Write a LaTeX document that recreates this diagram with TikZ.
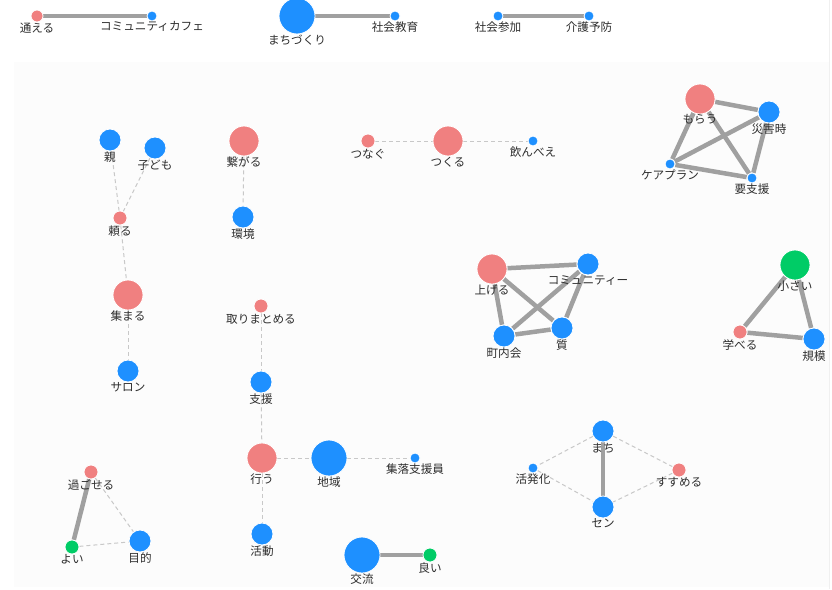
\documentclass[tikz,border=0pt]{standalone}
\usepackage{fontspec}
\newfontfamily\jp{Noto Sans CJK JP}
\usetikzlibrary{backgrounds}
\definecolor{cpink}{RGB}{240,128,128}
\definecolor{cblue}{RGB}{30,144,255}
\definecolor{cgreen}{RGB}{0,204,102}
\definecolor{cedge}{RGB}{160,160,160}
\definecolor{cdash}{RGB}{200,200,200}
\definecolor{ctext}{RGB}{45,45,45}
\definecolor{cpanel}{RGB}{252,252,252}
\tikzset{
  vert/.style={circle,draw=white,line width=0.8pt,inner sep=0pt},
  lbl/.style={font=\jp\fontsize{11.6}{12}\selectfont,text=ctext,inner sep=0pt},
  strong/.style={draw=cedge,line width=4.5pt},
  weak/.style={draw=cdash,line width=1pt,dash pattern=on 4pt off 3pt},
}
% name, x, y, diameter, colour, text
\newcommand{\vx}[6]{%
  \node[vert,fill=#5,minimum size=#4pt] (#1) at (#2,#3) {};
  \node[lbl,anchor=north] (#1-t) at ([yshift=-0.2pt]#1.south) {#6};}
\begin{document}
\begin{tikzpicture}[x=1pt,y=-1pt]
\useasboundingbox (0,0) rectangle (832,589);
% top row
\vx{a1}{37}{16}{12}{cpink}{通える}
\vx{a2}{152}{16}{10}{cblue}{コミュニティカフェ}
\vx{b1}{297}{16}{36}{cblue}{まちづくり}
\vx{b2}{395}{16}{10}{cblue}{社会教育}
\vx{c1}{498}{16}{10}{cblue}{社会参加}
\vx{c2}{589}{16}{10}{cblue}{介護予防}
% left group
\vx{oya}{110}{140}{22}{cblue}{親}
\vx{kod}{155}{148}{22}{cblue}{子ども}
\vx{tay}{120}{218}{14}{cpink}{頼る}
\vx{ats}{128}{295}{30}{cpink}{集まる}
\vx{sal}{128}{371}{22}{cblue}{サロン}
\vx{tsu}{244}{141}{30}{cpink}{繋がる}
\vx{kan}{243}{217}{22}{cblue}{環境}
\vx{tng}{368}{141}{14}{cpink}{つなぐ}
\vx{tkr}{448}{141}{30}{cpink}{つくる}
\vx{nom}{533}{141}{10}{cblue}{飲んべえ}
% top right
\vx{mor}{700}{99}{30}{cpink}{もらう}
\vx{sai}{769}{112}{22}{cblue}{災害時}
\vx{kea}{670}{164}{10}{cblue}{ケアプラン}
\vx{yos}{752}{178}{10}{cblue}{要支援}
% middle right
\vx{age}{492}{269}{30}{cpink}{上げる}
\vx{com}{588}{264}{22}{cblue}{コミュニティー}
\vx{cho}{504}{336}{22}{cblue}{町内会}
\vx{shi}{562}{328}{22}{cblue}{質}
% right
\vx{chi}{795}{265}{30}{cgreen}{小さい}
\vx{man}{740}{332}{14}{cpink}{学べる}
\vx{kib}{814}{339}{22}{cblue}{規模}
% centre column
\vx{tor}{261}{306}{14}{cpink}{取りまとめる}
\vx{shn}{261}{382}{22}{cblue}{支援}
\vx{oko}{262}{458}{30}{cpink}{行う}
\vx{chk}{329}{458}{36}{cblue}{地域}
\vx{shu}{415}{458}{10}{cblue}{集落支援員}
\vx{kat}{262}{534}{22}{cblue}{活動}
\vx{kor}{362}{555}{36}{cblue}{交流}
\vx{yoi}{430}{555}{14}{cgreen}{良い}
% bottom left
\vx{sug}{91}{472}{14}{cpink}{過ごせる}
\vx{yo2}{72}{547}{14}{cgreen}{よい}
\vx{mok}{140}{541}{22}{cblue}{目的}
% bottom right
\vx{mac}{603}{431}{22}{cblue}{まち}
\vx{kap}{533}{468}{10}{cblue}{活発化}
\vx{sus}{679}{470}{14}{cpink}{すすめる}
\vx{sen}{603}{507}{22}{cblue}{セン}
\begin{scope}[on background layer]
\fill[white] (0,0) rectangle (832,589);
\fill[cpanel] (14,62) rectangle (829,587);
\draw[gray!12,line width=0.8pt] (829.5,0) -- (829.5,589);
\draw[strong] (a1) -- (a2);
\draw[strong] (b1) -- (b2);
\draw[strong] (c1) -- (c2);
\draw[weak] (oya) -- (tay);
\draw[weak] (kod) -- (tay);
\draw[weak] (tay) -- (ats);
\draw[weak] (ats) -- (sal);
\draw[weak] (tsu) -- (kan);
\draw[weak] (tng) -- (tkr);
\draw[weak] (tkr) -- (nom);
\draw[strong] (mor) -- (sai);
\draw[strong] (mor) -- (kea);
\draw[strong] (mor) -- (yos);
\draw[strong] (sai) -- (kea);
\draw[strong] (sai) -- (yos);
\draw[strong] (kea) -- (yos);
\draw[strong] (age) -- (com);
\draw[strong] (age) -- (cho);
\draw[strong] (age) -- (shi);
\draw[strong] (com) -- (cho);
\draw[strong] (com) -- (shi);
\draw[strong] (cho) -- (shi);
\draw[strong] (chi) -- (man);
\draw[strong] (chi) -- (kib);
\draw[strong] (man) -- (kib);
\draw[weak] (tor) -- (shn);
\draw[weak] (shn) -- (oko);
\draw[weak] (oko) -- (chk);
\draw[weak] (chk) -- (shu);
\draw[weak] (oko) -- (kat);
\draw[strong] (kor) -- (yoi);
\draw[strong] (sug) -- (yo2);
\draw[weak] (sug) -- (mok);
\draw[weak] (yo2) -- (mok);
\draw[strong] (mac) -- (sen);
\draw[weak] (mac) -- (kap);
\draw[weak] (mac) -- (sus);
\draw[weak] (kap) -- (sen);
\draw[weak] (sus) -- (sen);
\end{scope}
\end{tikzpicture}
\end{document}
